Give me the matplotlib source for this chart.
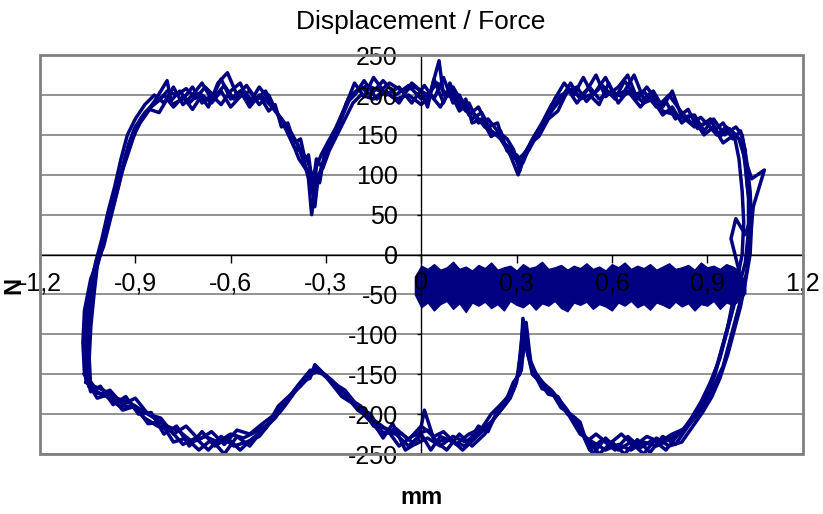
import matplotlib.pyplot as plt
from matplotlib.patches import Rectangle

plt.rcParams['font.family'] = ['Liberation Sans', 'DejaVu Sans']
plt.rcParams['axes.unicode_minus'] = False

# five traced load cycles (mm, N)
cycle1 = [(-1.05, -155), (-1.055, -100), (-1.05, -60), (-1.03, -20), (-1.0, 10), (-0.975, 50),
          (-0.95, 90), (-0.93, 125), (-0.905, 155), (-0.88, 172), (-0.85, 185), (-0.82, 195),
          (-0.80, 205), (-0.77, 200), (-0.74, 208), (-0.71, 196), (-0.68, 210), (-0.65, 198),
          (-0.62, 212), (-0.59, 195), (-0.56, 205), (-0.53, 192), (-0.50, 198), (-0.47, 185),
          (-0.44, 170), (-0.41, 145), (-0.385, 120), (-0.36, 105), (-0.345, 90), (-0.335, 60),
          (-0.325, 95), (-0.31, 115), (-0.29, 135), (-0.26, 165), (-0.23, 195), (-0.2, 205),
          (-0.17, 212), (-0.13, 205), (-0.1, 215), (-0.06, 205), (-0.02, 210), (0.02, 200),
          (0.05, 215), (0.08, 200), (0.11, 195), (0.14, 180), (0.17, 175), (0.2, 160),
          (0.24, 150), (0.27, 135), (0.30, 118), (0.32, 125), (0.35, 140), (0.38, 160),
          (0.41, 180), (0.44, 200), (0.47, 205), (0.5, 198), (0.53, 210), (0.56, 195),
          (0.6, 205), (0.63, 198), (0.66, 205), (0.7, 190), (0.73, 195), (0.76, 180),
          (0.8, 175), (0.83, 170), (0.86, 160), (0.9, 165), (0.93, 150), (0.96, 160),
          (0.99, 150), (1.01, 140), (1.02, 110), (1.03, 70), (1.03, 30), (1.02, -10),
          (1.0, -40), (0.98, -70), (0.96, -100), (0.94, -130), (0.91, -160), (0.88, -185),
          (0.85, -205), (0.82, -222), (0.78, -232), (0.74, -240), (0.7, -235), (0.66, -245),
          (0.62, -238), (0.58, -245), (0.54, -235), (0.5, -225), (0.47, -205), (0.44, -185),
          (0.41, -170), (0.38, -160), (0.35, -150), (0.33, -115), (0.32, -90), (0.31, -130),
          (0.3, -160), (0.28, -180), (0.25, -195), (0.22, -210), (0.18, -222), (0.14, -235),
          (0.1, -228), (0.06, -240), (0.02, -230), (-0.02, -238), (-0.06, -225), (-0.1, -222),
          (-0.14, -210), (-0.18, -200), (-0.22, -185), (-0.26, -168), (-0.3, -152), (-0.33, -142),
          (-0.36, -150), (-0.4, -170), (-0.44, -195), (-0.48, -212), (-0.52, -222), (-0.56, -230),
          (-0.6, -225), (-0.64, -235), (-0.68, -228), (-0.72, -235), (-0.76, -222), (-0.8, -215),
          (-0.84, -205), (-0.88, -195), (-0.92, -185), (-0.96, -180), (-1.0, -170), (-1.03, -165),
          (-1.05, -155)]

cycle2 = [(-1.06, -150), (-1.065, -110), (-1.06, -70), (-1.04, -30), (-1.01, 0), (-0.985, 40),
          (-0.96, 80), (-0.94, 110), (-0.92, 140), (-0.9, 160), (-0.87, 178), (-0.84, 190),
          (-0.81, 200), (-0.79, 192), (-0.76, 205), (-0.73, 190), (-0.7, 202), (-0.67, 185),
          (-0.64, 215), (-0.61, 228), (-0.58, 200), (-0.55, 212), (-0.52, 195), (-0.49, 205),
          (-0.46, 182), (-0.43, 160), (-0.4, 135), (-0.375, 128), (-0.355, 95), (-0.345, 50),
          (-0.335, 80), (-0.32, 100), (-0.3, 125), (-0.28, 150), (-0.25, 172), (-0.22, 200),
          (-0.19, 210), (-0.16, 200), (-0.12, 218), (-0.08, 200), (-0.04, 212), (0.0, 195),
          (0.03, 205), (0.056, 243), (0.07, 200), (0.1, 210), (0.13, 190), (0.16, 170),
          (0.19, 178), (0.22, 155), (0.25, 145), (0.28, 125), (0.305, 100), (0.33, 130),
          (0.36, 150), (0.39, 170), (0.42, 195), (0.45, 215), (0.48, 200), (0.51, 222),
          (0.54, 200), (0.57, 212), (0.61, 195), (0.64, 218), (0.67, 200), (0.7, 205),
          (0.74, 185), (0.77, 192), (0.8, 170), (0.84, 182), (0.87, 158), (0.91, 170),
          (0.94, 148), (0.97, 158), (1.0, 145), (1.015, 125), (1.04, 95), (1.08, 106),
          (1.045, 60), (1.035, 20), (1.025, -20), (1.01, -50), (0.99, -80), (0.97, -110),
          (0.95, -140), (0.92, -165), (0.895, -185), (0.87, -200), (0.84, -215), (0.8, -238),
          (0.76, -228), (0.72, -248), (0.68, -232), (0.64, -250), (0.6, -235), (0.56, -250),
          (0.52, -230), (0.49, -215), (0.46, -195), (0.43, -180), (0.4, -168), (0.37, -155),
          (0.345, -140), (0.33, -100), (0.32, -80), (0.315, -115), (0.305, -150), (0.29, -170),
          (0.26, -190), (0.23, -205), (0.2, -225), (0.16, -240), (0.12, -225), (0.08, -245),
          (0.04, -232), (0.01, -195), (-0.01, -235), (-0.05, -245), (-0.09, -212), (-0.12, -230),
          (-0.16, -205), (-0.2, -195), (-0.24, -175), (-0.28, -158), (-0.31, -148), (-0.335, -138),
          (-0.35, -155), (-0.38, -160), (-0.42, -182), (-0.46, -205), (-0.5, -220), (-0.54, -240),
          (-0.58, -228), (-0.62, -250), (-0.66, -232), (-0.7, -245), (-0.74, -230), (-0.78, -235),
          (-0.82, -210), (-0.86, -212), (-0.9, -190), (-0.94, -195), (-0.98, -175), (-1.02, -180),
          (-1.05, -160), (-1.06, -150)]

cycle3 = [(-1.045, -165), (-1.05, -120), (-1.045, -80), (-1.035, -40), (-1.015, -5), (-0.99, 30),
          (-0.97, 65), (-0.945, 100), (-0.92, 130), (-0.895, 160), (-0.87, 175), (-0.835, 195),
          (-0.8, 218), (-0.785, 188), (-0.75, 195), (-0.72, 210), (-0.69, 190), (-0.66, 200),
          (-0.63, 188), (-0.6, 205), (-0.57, 215), (-0.54, 190), (-0.51, 210), (-0.48, 195),
          (-0.45, 175), (-0.42, 155), (-0.39, 140), (-0.365, 110), (-0.35, 100), (-0.34, 75),
          (-0.33, 110), (-0.315, 125), (-0.295, 140), (-0.27, 158), (-0.24, 185), (-0.21, 215),
          (-0.18, 198), (-0.15, 222), (-0.11, 200), (-0.07, 210), (-0.03, 190), (0.01, 212),
          (0.04, 195), (0.07, 222), (0.1, 190), (0.12, 200), (0.15, 175), (0.18, 185),
          (0.21, 160), (0.24, 165), (0.26, 140), (0.29, 130), (0.31, 112), (0.34, 132),
          (0.37, 155), (0.40, 175), (0.43, 190), (0.46, 208), (0.49, 190), (0.52, 205),
          (0.55, 225), (0.58, 198), (0.62, 210), (0.65, 225), (0.68, 195), (0.71, 210),
          (0.75, 188), (0.78, 200), (0.82, 178), (0.85, 165), (0.88, 172), (0.92, 155),
          (0.95, 165), (0.98, 145), (1.005, 155), (1.02, 130), (1.025, 90), (1.04, 50),
          (1.02, 25), (0.99, 45), (0.975, 20), (1.0, -20), (0.99, -50), (0.975, -75),
          (0.955, -105), (0.93, -140), (0.905, -170), (0.875, -190), (0.845, -210), (0.81, -225),
          (0.77, -245), (0.73, -232), (0.69, -242), (0.65, -228), (0.61, -245), (0.57, -232),
          (0.53, -245), (0.5, -218), (0.48, -210), (0.45, -190), (0.42, -178), (0.39, -165),
          (0.36, -148), (0.34, -130), (0.325, -95), (0.31, -140), (0.295, -165), (0.27, -185),
          (0.24, -200), (0.21, -215), (0.17, -230), (0.13, -245), (0.09, -230), (0.05, -235),
          (0.02, -220), (-0.03, -228), (-0.07, -240), (-0.11, -218), (-0.15, -215), (-0.19, -190),
          (-0.23, -180), (-0.27, -162), (-0.31, -150), (-0.34, -145), (-0.37, -158), (-0.41, -175),
          (-0.45, -190), (-0.49, -218), (-0.53, -230), (-0.57, -245), (-0.61, -230), (-0.65, -240),
          (-0.69, -222), (-0.73, -240), (-0.77, -215), (-0.81, -225), (-0.85, -198), (-0.89, -200),
          (-0.93, -178), (-0.97, -188), (-1.01, -165), (-1.04, -172), (-1.045, -165)]

cycle4 = [(-1.04, -170), (-1.045, -130), (-1.04, -90), (-1.03, -50), (-1.02, -15), (-1.0, 15),
          (-0.98, 45), (-0.96, 75), (-0.935, 115), (-0.91, 145), (-0.885, 165), (-0.855, 182),
          (-0.825, 178), (-0.8, 195), (-0.78, 185), (-0.75, 198), (-0.72, 182), (-0.69, 200),
          (-0.66, 190), (-0.63, 205), (-0.6, 185), (-0.57, 198), (-0.54, 205), (-0.51, 188),
          (-0.48, 200), (-0.455, 178), (-0.43, 165), (-0.405, 150), (-0.38, 130), (-0.36, 120),
          (-0.35, 108), (-0.34, 90), (-0.33, 120), (-0.31, 108), (-0.29, 130), (-0.265, 150),
          (-0.24, 170), (-0.215, 190), (-0.19, 200), (-0.15, 195), (-0.12, 205), (-0.08, 195),
          (-0.04, 200), (0.0, 188), (0.03, 200), (0.06, 185), (0.09, 205), (0.12, 180),
          (0.15, 190), (0.18, 165), (0.21, 170), (0.24, 155), (0.27, 145), (0.29, 132),
          (0.31, 105), (0.325, 125), (0.35, 145), (0.38, 165), (0.41, 188), (0.44, 192),
          (0.47, 215), (0.5, 195), (0.53, 200), (0.56, 188), (0.59, 215), (0.62, 190),
          (0.65, 205), (0.69, 185), (0.72, 200), (0.76, 175), (0.79, 185), (0.82, 165),
          (0.85, 175), (0.89, 150), (0.92, 160), (0.95, 140), (0.985, 150), (1.0, 120),
          (1.01, 80), (1.015, 40), (1.01, 0), (0.995, -30), (0.98, -60), (0.965, -90),
          (0.945, -120), (0.925, -150), (0.9, -175), (0.87, -195), (0.83, -218), (0.79, -225),
          (0.75, -235), (0.71, -228), (0.67, -240), (0.63, -225), (0.59, -238), (0.55, -225),
          (0.52, -235), (0.5, -210), (0.47, -200), (0.44, -192), (0.41, -172), (0.38, -168),
          (0.35, -145), (0.335, -125), (0.325, -105), (0.315, -145), (0.3, -155), (0.28, -175),
          (0.25, -188), (0.22, -200), (0.19, -218), (0.15, -225), (0.11, -238), (0.07, -222),
          (0.04, -228), (0.0, -215), (-0.04, -232), (-0.08, -218), (-0.12, -225), (-0.16, -200),
          (-0.2, -190), (-0.24, -170), (-0.28, -160), (-0.32, -145), (-0.345, -150), (-0.38, -165),
          (-0.42, -180), (-0.46, -200), (-0.5, -212), (-0.54, -225), (-0.58, -220), (-0.62, -238),
          (-0.66, -222), (-0.7, -232), (-0.74, -215), (-0.78, -225), (-0.82, -205), (-0.86, -200),
          (-0.9, -180), (-0.94, -188), (-0.98, -170), (-1.01, -175), (-1.04, -170)]

cycle5 = [(-1.055, -160), (-1.06, -125), (-1.05, -85), (-1.045, -45), (-1.025, -10), (-1.005, 20),
          (-0.985, 55), (-0.965, 85), (-0.945, 120), (-0.925, 150), (-0.9, 170), (-0.87, 188),
          (-0.84, 200), (-0.81, 190), (-0.78, 210), (-0.75, 188), (-0.72, 200), (-0.69, 215),
          (-0.66, 195), (-0.63, 220), (-0.6, 195), (-0.57, 205), (-0.54, 185), (-0.51, 200),
          (-0.48, 180), (-0.46, 188), (-0.44, 160), (-0.42, 165), (-0.40, 140), (-0.38, 145),
          (-0.365, 118), (-0.355, 125), (-0.345, 95), (-0.335, 105), (-0.32, 90), (-0.305, 125),
          (-0.285, 145), (-0.26, 160), (-0.235, 190), (-0.21, 200), (-0.18, 218), (-0.14, 195),
          (-0.11, 205), (-0.07, 190), (-0.03, 215), (0.0, 205), (0.02, 185), (0.04, 220),
          (0.07, 190), (0.09, 215), (0.12, 185), (0.14, 195), (0.16, 165), (0.19, 170),
          (0.22, 148), (0.25, 155), (0.27, 130), (0.3, 125), (0.32, 115), (0.345, 140),
          (0.37, 148), (0.4, 170), (0.43, 180), (0.46, 205), (0.49, 210), (0.52, 192),
          (0.55, 205), (0.58, 222), (0.61, 198), (0.64, 205), (0.67, 225), (0.7, 195),
          (0.73, 205), (0.76, 185), (0.79, 205), (0.82, 172), (0.86, 175), (0.89, 155),
          (0.92, 170), (0.955, 150), (0.99, 160), (1.01, 150), (1.025, 115), (1.035, 80),
          (1.04, 40), (1.035, 0), (1.02, -35), (1.005, -65), (0.985, -95), (0.965, -125),
          (0.94, -155), (0.915, -178), (0.885, -198), (0.855, -215), (0.82, -235), (0.78, -240),
          (0.74, -230), (0.7, -250), (0.66, -235), (0.62, -245), (0.58, -230), (0.54, -250),
          (0.51, -225), (0.485, -205), (0.46, -200), (0.43, -178), (0.4, -175), (0.37, -158),
          (0.35, -150), (0.34, -120), (0.33, -85), (0.32, -125), (0.31, -150), (0.29, -160),
          (0.27, -180), (0.24, -195), (0.21, -222), (0.18, -215), (0.14, -240), (0.1, -235),
          (0.06, -228), (0.03, -245), (0.0, -225), (-0.04, -240), (-0.08, -225), (-0.13, -222),
          (-0.17, -205), (-0.21, -188), (-0.25, -178), (-0.29, -158), (-0.32, -145), (-0.35, -145),
          (-0.39, -168), (-0.43, -190), (-0.47, -208), (-0.51, -228), (-0.55, -235), (-0.59, -240),
          (-0.63, -228), (-0.67, -245), (-0.71, -230), (-0.75, -238), (-0.79, -220), (-0.83, -215),
          (-0.87, -205), (-0.91, -190), (-0.95, -190), (-0.99, -178), (-1.03, -170), (-1.055, -160)]

# noisy band of the first run (0 -> 1 mm)
band_x = [-0.02, 0.0, 0.02, 0.04, 0.06, 0.08, 0.1, 0.12, 0.14, 0.16, 0.18, 0.2, 0.22,
          0.24, 0.26, 0.28, 0.3, 0.32, 0.34, 0.36, 0.38, 0.4, 0.42, 0.44, 0.46, 0.48,
          0.5, 0.52, 0.54, 0.56, 0.58, 0.6, 0.62, 0.64, 0.66, 0.68, 0.7, 0.72, 0.74,
          0.76, 0.78, 0.8, 0.82, 0.84, 0.86, 0.88, 0.9, 0.92, 0.94, 0.96, 0.98, 1.0, 1.02]
band_top = [-28, -14, -18, -12, -19, -16, -9, -18, -15, -20, -13, -17, -10,
            -19, -16, -14, -20, -12, -17, -15, -9, -18, -16, -13, -19, -14,
            -17, -11, -18, -15, -20, -12, -16, -10, -18, -14, -17, -12, -19,
            -15, -11, -18, -16, -13, -19, -10, -16, -14, -18, -12, -15, -20, -35]
band_bottom = [-50, -66, -60, -70, -62, -58, -68, -61, -72, -60, -64, -59, -67,
               -62, -70, -58, -63, -66, -60, -69, -61, -64, -58, -67, -71, -60,
               -63, -59, -68, -62, -65, -70, -60, -64, -58, -66, -62, -69, -60,
               -63, -67, -59, -65, -61, -70, -62, -64, -58, -68, -60, -63, -58, -48]

x_ticks = [-1.2, -0.9, -0.6, -0.3, 0, 0.3, 0.6, 0.9, 1.2]
x_labels = ["-1,2", "-0,9", "-0,6", "-0,3", "0", "0,3", "0,6", "0,9", "1,2"]
y_ticks = [-250, -200, -150, -100, -50, 0, 50, 100, 150, 200, 250]

navy = "#000080"

fig = plt.figure(figsize=(8.23, 5.14), dpi=100)
ax = fig.add_axes([0.0486, 0.1167, 0.9265, 0.776])
ax.set_xlim(-1.2, 1.2)
ax.set_ylim(-250, 250)

for yv in y_ticks:
    ax.axhline(yv, color="#808080", lw=1.2, zorder=1)

ax.fill_between(band_x, band_bottom, band_top, color=navy, lw=1.0, edgecolor=navy, zorder=2)
for cyc in (cycle1, cycle2, cycle3, cycle4, cycle5):
    xs = [p[0] for p in cyc]
    ys = [p[1] for p in cyc]
    ax.plot(xs, ys, color=navy, lw=2.5, zorder=2)

ax.set_axisbelow(False)
for s in ("top", "right"):
    ax.spines[s].set_visible(False)
ax.spines["left"].set_position(("data", 0))
ax.spines["bottom"].set_position(("data", 0))
ax.spines["left"].set_color("black")
ax.spines["bottom"].set_color("black")
ax.spines["left"].set_linewidth(1)
ax.spines["bottom"].set_linewidth(1)
ax.add_patch(Rectangle((0, 0), 1, 1, transform=ax.transAxes, fill=False,
                       edgecolor="#808080", lw=2, zorder=3, clip_on=False))

ax.set_xticks(x_ticks)
ax.set_xticklabels(x_labels)
ax.set_yticks(y_ticks)
ax.tick_params(axis="x", direction="out", length=6, width=1, pad=6, labelsize=18)
ax.tick_params(axis="y", direction="out", length=3, width=1, pad=14, labelsize=18)

fig.text(0.5116, 0.957, "Displacement / Force", ha="center", va="center", fontsize=19)
fig.text(0.5116, 0.033, "mm", ha="center", va="center", fontsize=17, fontweight="bold")
fig.text(0.017, 0.445, "N", ha="center", va="center", fontsize=17, fontweight="bold", rotation=90)

fig.savefig("out.png", dpi=100)
